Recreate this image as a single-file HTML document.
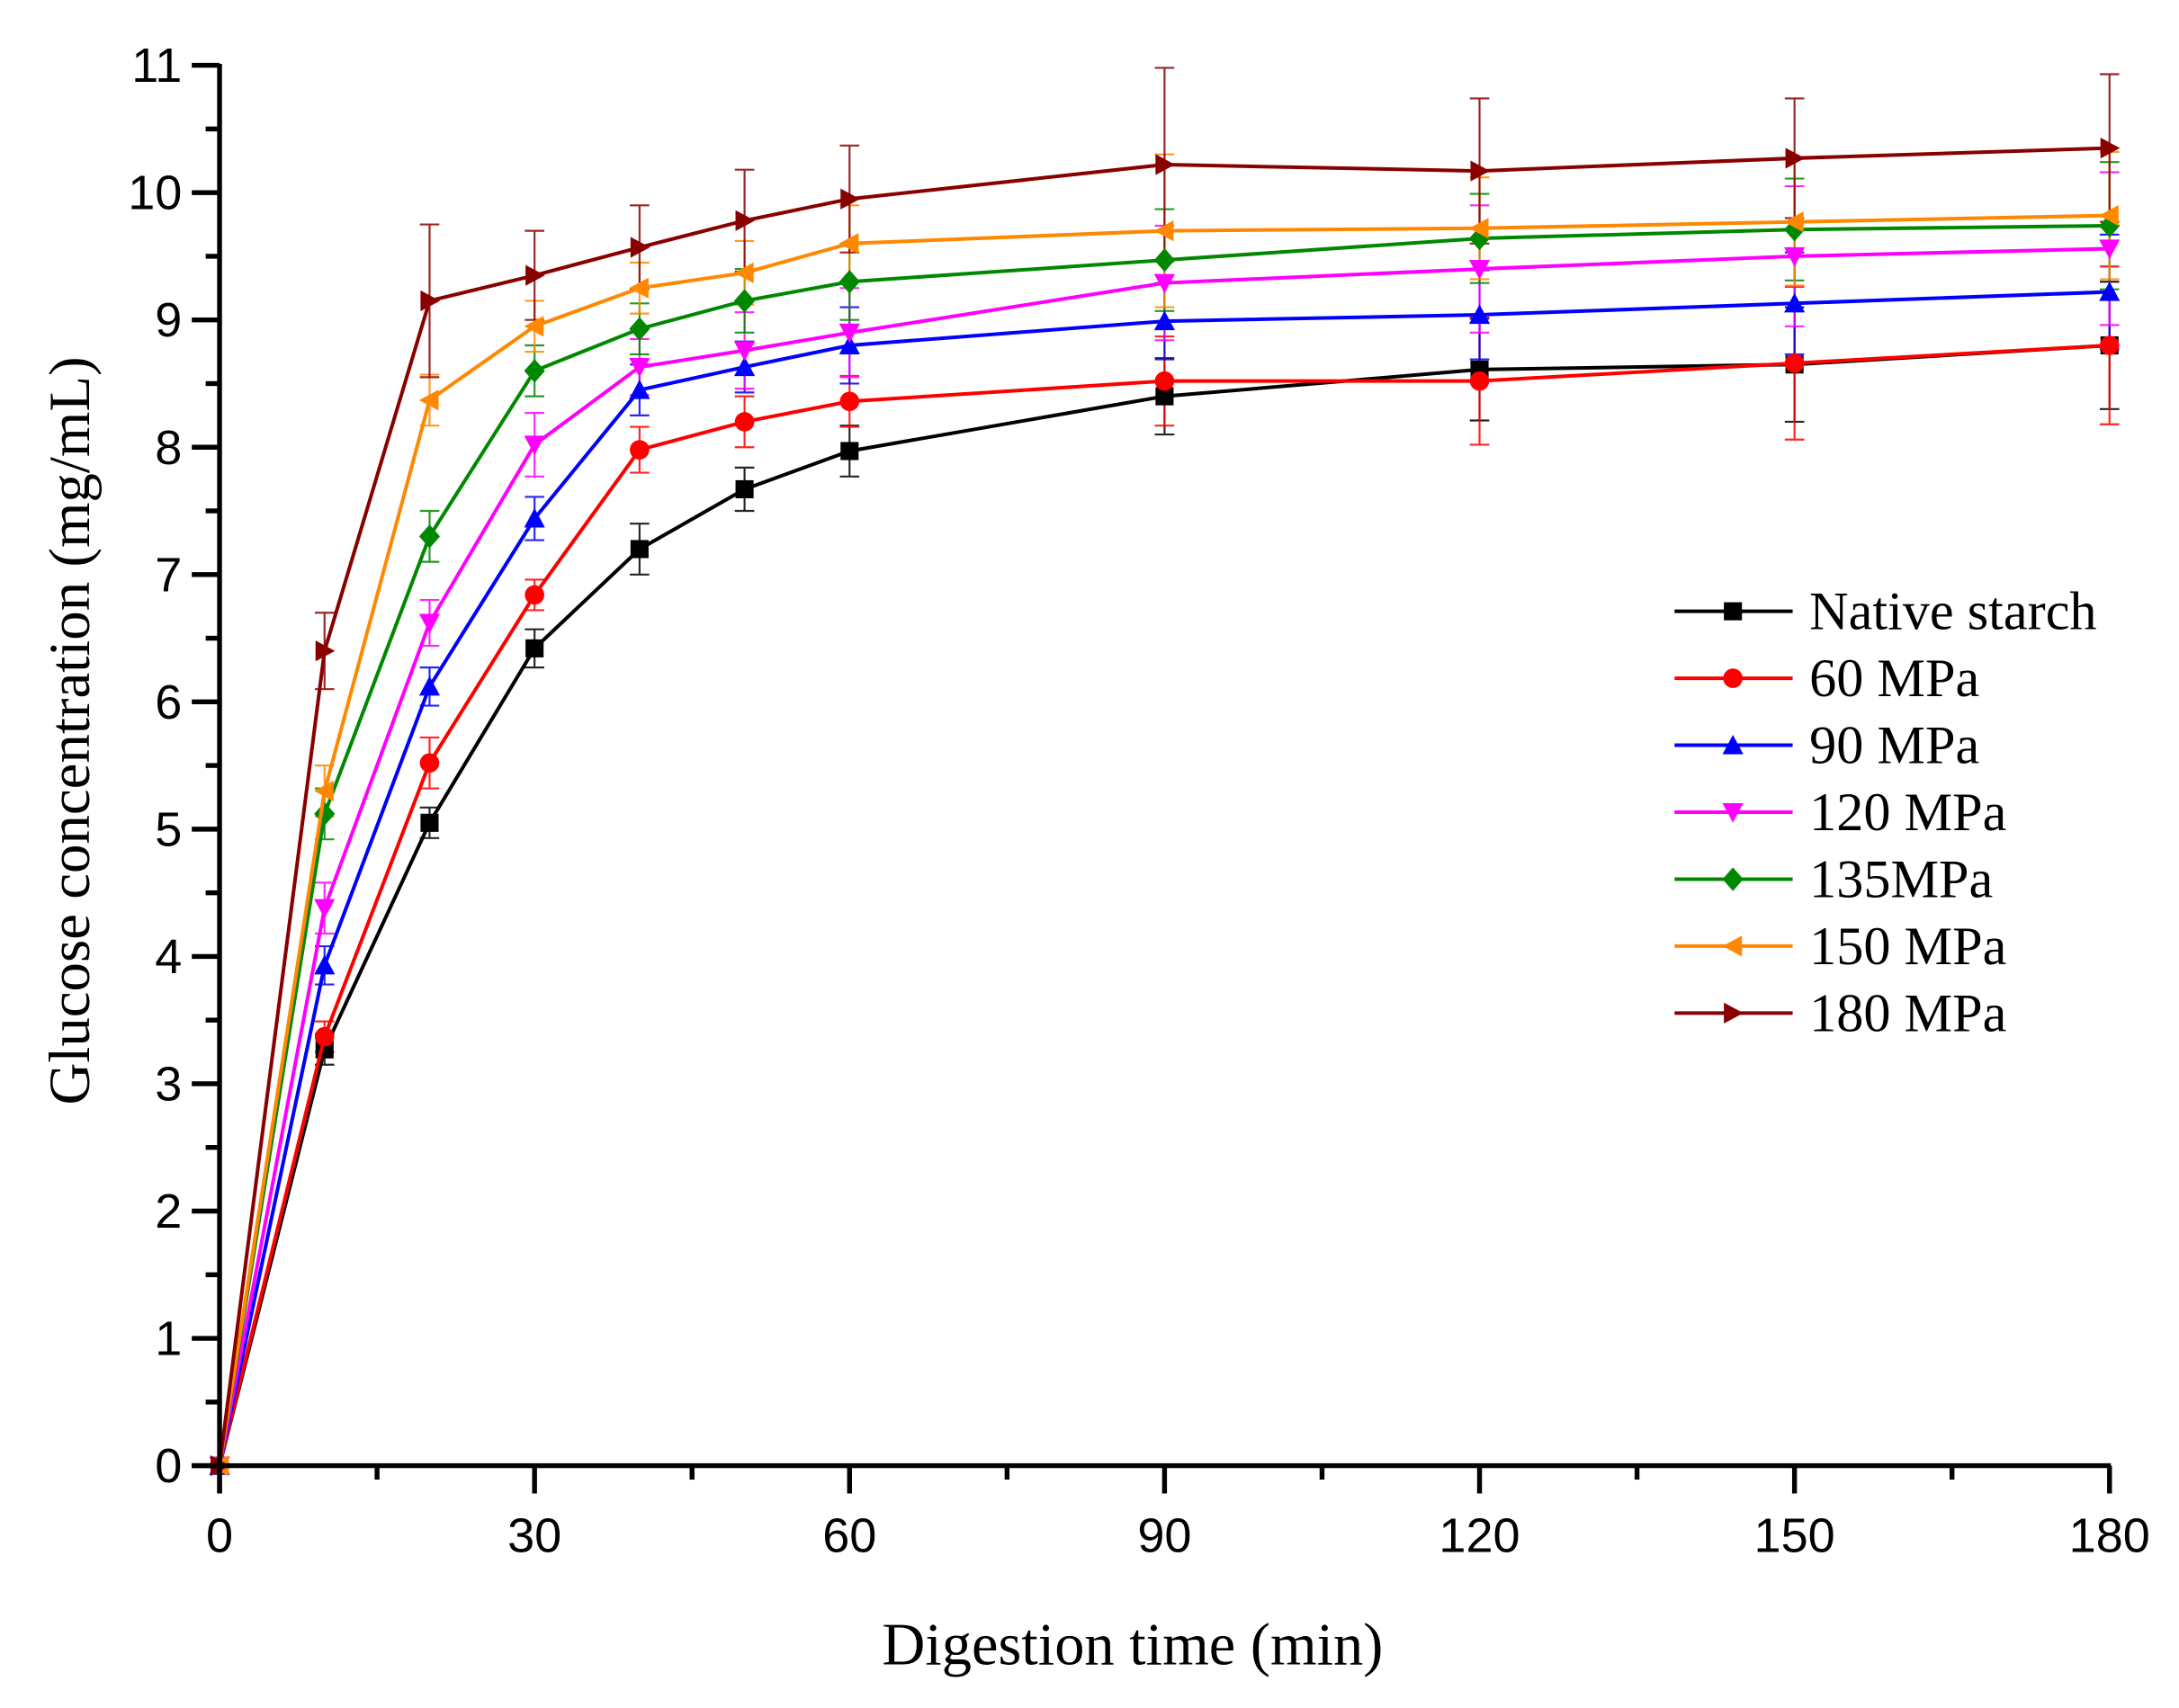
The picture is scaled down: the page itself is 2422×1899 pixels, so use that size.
<!DOCTYPE html>
<html><head><meta charset="utf-8"><style>html,body{margin:0;padding:0;background:#fff}svg{display:block}</style></head>
<body>
<svg id="s" width="2422" height="1899" viewBox="0 0 1568 1229.4" xmlns="http://www.w3.org/2000/svg">
<rect width="1568" height="1229.4" fill="#fff"/>
<g id="g"></g>
<text x="815" y="1198" font-family="Liberation Serif, serif" font-size="43" text-anchor="middle">Digestion time (min)</text>
<text transform="translate(64,526) rotate(-90)" font-family="Liberation Serif, serif" font-size="42" text-anchor="middle">Glucose concentration (mg/mL)</text>
</svg>
<script>
const g=document.getElementById('g');
const X0=158,X1=1518,Y0=1055,Y1=47;
const px=t=>X0+t*(X1-X0)/180, py=v=>Y0-v*(Y0-Y1)/11;
let h='';
const T=[0,10,20,30,40,50,60,90,120,150,180];
const S=[
['Native starch','#000','sq',[0,3.27,5.05,6.42,7.2,7.67,7.97,8.4,8.61,8.65,8.8],[0,.12,.12,.15,.2,.17,.2,.3,.4,.45,.5]],
['60 MPa','#f00','ci',[0,3.37,5.52,6.84,7.98,8.2,8.36,8.52,8.52,8.66,8.8],[0,.12,.2,.12,.18,.2,.2,.35,.5,.6,.62]],
['90 MPa','#00f','tu',[0,3.93,6.12,7.44,8.45,8.63,8.8,8.99,9.04,9.13,9.22],[0,.15,.15,.17,.2,.2,.3,.3,.35,.4,.45]],
['120 MPa','#f0f','td',[0,4.38,6.62,8.02,8.63,8.76,8.9,9.29,9.4,9.5,9.56],[0,.2,.18,.25,.22,.3,.35,.45,.5,.55,.6]],
['135MPa','#080','di',[0,5.12,7.3,8.6,8.93,9.15,9.3,9.47,9.64,9.71,9.74],[0,.2,.2,.2,.2,.25,.3,.4,.35,.4,.5]],
['150 MPa','#f80','tl',[0,5.3,8.37,8.95,9.25,9.37,9.6,9.7,9.72,9.77,9.82],[0,.2,.2,.2,.2,.25,.3,.6,.4,.5,.5]],
['180 MPa','#800','tr',[0,6.4,9.15,9.35,9.57,9.78,9.95,10.22,10.17,10.27,10.35],[0,.3,.6,.35,.33,.4,.42,.76,.57,.47,.58]]];
function mk(x,y,t,c){const r=6.5;
 if(t=='sq')return `<rect x="${x-r}" y="${y-r}" width="${2*r}" height="${2*r}" fill="${c}"/>`;
 if(t=='ci')return `<circle cx="${x}" cy="${y}" r="${r+.5}" fill="${c}"/>`;
 if(t=='tu')return `<polygon points="${x},${y-r-1} ${x-r-1},${y+r} ${x+r+1},${y+r}" fill="${c}"/>`;
 if(t=='td')return `<polygon points="${x},${y+r+1} ${x-r-1},${y-r} ${x+r+1},${y-r}" fill="${c}"/>`;
 if(t=='di')return `<polygon points="${x},${y-r-2} ${x+r+1},${y} ${x},${y+r+2} ${x-r-1},${y}" fill="${c}"/>`;
 if(t=='tl')return `<polygon points="${x-r-1},${y} ${x+r},${y-r-1} ${x+r},${y+r+1}" fill="${c}"/>`;
 return `<polygon points="${x+r+1},${y} ${x-r},${y-r-1} ${x-r},${y+r+1}" fill="${c}"/>`;}
S.forEach(s=>{T.forEach((t,i)=>{if(!i)return;const x=px(t),e=s[4][i];const a=py(s[3][i]+e),b=py(s[3][i]-e);
 h+=`<g stroke="${s[1]}" stroke-width="1.4" opacity=".85"><line x1="${x}" y1="${a}" x2="${x}" y2="${b}"/><line x1="${x-7}" y1="${a}" x2="${x+7}" y2="${a}"/><line x1="${x-7}" y1="${b}" x2="${x+7}" y2="${b}"/></g>`;});});
S.forEach(s=>{h+=`<polyline fill="none" stroke="${s[1]}" stroke-width="2.6" points="${T.map((t,i)=>px(t)+','+py(s[3][i])).join(' ')}"/>`;
 T.forEach((t,i)=>{h+=mk(px(t),py(s[3][i]),s[2],s[1]);});});
h+=`<g stroke="#000" stroke-width="3.5" fill="none"><line x1="${X0}" y1="${Y1-1}" x2="${X0}" y2="${Y0+20}"/><line x1="${X0-20}" y1="${Y0}" x2="${X1+1}" y2="${Y0}"/>`;
for(let v=0;v<=11;v+=.5){const y=py(v);h+=`<line x1="${X0-(v%1?10:20)}" y1="${y}" x2="${X0}" y2="${y}"/>`;}
for(let t=0;t<=180;t+=15){const x=px(t);h+=`<line x1="${x}" y1="${Y0}" x2="${x}" y2="${Y0+(t%30?10:20)}"/>`;}
h+='</g>';
for(let v=0;v<=11;v++)h+=`<text x="${X0-27}" y="${py(v)+12}" font-family="Liberation Sans, sans-serif" font-size="35" text-anchor="end">${v}</text>`;
for(let t=0;t<=180;t+=30)h+=`<text x="${px(t)}" y="${Y0+62}" font-family="Liberation Sans, sans-serif" font-size="35" text-anchor="middle">${t}</text>`;
S.forEach((s,i)=>{const y=440+i*48.2;h+=`<line x1="1205" y1="${y}" x2="1290" y2="${y}" stroke="${s[1]}" stroke-width="2.6"/>`+mk(1247,y,s[2],s[1])+
 `<text x="1302" y="${y+13}" font-family="Liberation Serif, serif" font-size="39">${s[0]}</text>`;});
g.innerHTML=h;
</script>
</body></html>
